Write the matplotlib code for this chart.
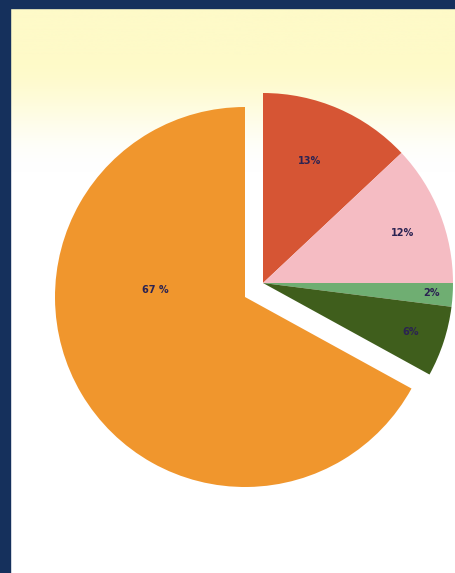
import numpy as np
import matplotlib
matplotlib.use("Agg")
import matplotlib.pyplot as plt
from matplotlib.patches import Rectangle

# ---- data ----
labels = ["13%", "12%", "2%", "6%", "67 %"]
values = [13, 12, 2, 6, 67]
colors = ["#d65534", "#f5bcc3", "#6fae72", "#3f5e1c", "#f0962d"]
exploded = [True, True, True, True, False]

# ---- styling ----
W, H = 456, 573
center = (245, H - 297)
radius = 190
group_offset = (18, 14)
label_dist = [0.69, 0.78, 0.89, 0.82, 0.475]
label_angle = [69, 19.7, -3.4, -18.4, 175.5]
text_color = "#2b2352"
navy = "#15305c"

fig = plt.figure(figsize=(W / 100, H / 100), dpi=100)
fig.patch.set_facecolor("white")
ax = fig.add_axes([0, 0, 1, 1])

# background gradient (yellow at top fading to white)
n = 200
grad = np.linspace(0, 1, n)
top = np.array([254, 250, 200]) / 255
white = np.array([255, 255, 255]) / 255
t = np.clip((grad - 0.25) / 0.6, 0, 1)
t = t * t * (3 - 2 * t)
img = top[None, :] * (1 - t)[:, None] + white[None, :] * t[:, None]
img = img.reshape(n, 1, 3)
ax.imshow(img, extent=(10, W, H - 200, H - 8), aspect="auto", zorder=0, origin="upper")

# navy border (left & top)
ax.add_patch(Rectangle((0, 0), 10, H, color=navy, zorder=1))
ax.add_patch(Rectangle((0, H - 8), W, 8, color=navy, zorder=1))

wedges, _ = ax.pie(values, colors=colors, startangle=90, counterclock=False,
                   radius=radius, center=center, frame=True,
                   wedgeprops=dict(linewidth=0))
ax.set_xlim(0, W)
ax.set_ylim(0, H)
ax.set_aspect("equal")
ax.set_axis_off()

for w, ex, lab, d, a in zip(wedges, exploded, labels, label_dist, label_angle):
    w.set_zorder(2)
    cx, cy = center
    if ex:
        cx += group_offset[0]
        cy += group_offset[1]
        w.set_center((cx, cy))
    x = cx + d * radius * np.cos(np.deg2rad(a))
    y = cy + d * radius * np.sin(np.deg2rad(a))
    ax.text(x, y, lab, ha="center", va="center", fontsize=7, fontweight="bold",
            color=text_color, zorder=3)

fig.savefig("out.png", dpi=100)
